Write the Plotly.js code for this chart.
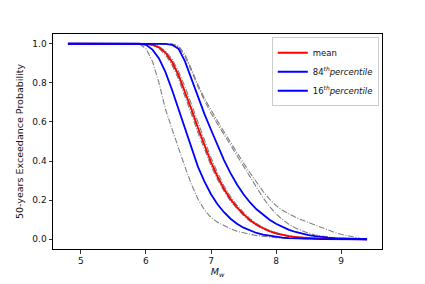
<!DOCTYPE html>
<html>
<head>
<meta charset="utf-8">
<script src="https://cdn.plot.ly/plotly-3.0.1.min.js"></script>
<style>html,body{margin:0;padding:0;background:#fff;}#chart{width:425px;height:284px;}</style>
</head>
<body>
<div id="chart"></div>
<script>
const mw = [4.8, 5.8, 5.9, 6.0, 6.1, 6.2, 6.3, 6.4, 6.5, 6.6, 6.7, 6.8, 6.9, 7.0, 7.1, 7.2, 7.3, 7.4, 7.5, 7.6, 7.7, 7.8, 7.9, 8.0, 8.1, 8.2, 8.3, 8.4, 8.5, 8.6, 8.7, 8.8, 8.9, 9.0, 9.1, 9.2, 9.3, 9.4];

const meanP = [1, 1, 1, 0.999, 0.995, 0.982, 0.955, 0.908, 0.841, 0.758, 0.665, 0.57, 0.478, 0.395, 0.321, 0.258, 0.205, 0.163, 0.128, 0.098, 0.074, 0.056, 0.041, 0.030, 0.022, 0.016, 0.011, 0.008, 0.0055, 0.0038, 0.0026, 0.0017, 0.001, 0.0006, 0.0003, 0.0002, 0.0001, 0];

const p84 = [1, 1, 1, 1, 1, 1, 0.999, 0.995, 0.975, 0.91, 0.82, 0.725, 0.64, 0.56, 0.48, 0.405, 0.338, 0.28, 0.23, 0.188, 0.153, 0.125, 0.10, 0.079, 0.062, 0.048, 0.037, 0.028, 0.021, 0.016, 0.011, 0.008, 0.0055, 0.0037, 0.0024, 0.0014, 0.0006, 0];

const p16 = [1, 1, 1, 0.995, 0.97, 0.925, 0.855, 0.765, 0.665, 0.56, 0.46, 0.37, 0.295, 0.23, 0.179, 0.138, 0.105, 0.079, 0.059, 0.044, 0.032, 0.023, 0.017, 0.012, 0.0085, 0.006, 0.0042, 0.003, 0.002, 0.0014, 0.001, 0.0007, 0.0005, 0.0003, 0.0002, 0.0001, 0, 0];

const branchA = [1, 1, 0.998, 0.975, 0.91, 0.80, 0.665, 0.565, 0.465, 0.37, 0.28, 0.205, 0.15, 0.111, 0.087, 0.068, 0.053, 0.041, 0.032, 0.025, 0.019, 0.014, 0.010, 0.0075, 0.0055, 0.004, 0.003, 0.002, 0.0014, 0.001, 0.0007, 0.0005, 0.0003, 0.0002, 0.0001, 0.0001, 0, 0];

const branchB = [1, 1, 1, 1, 1, 1, 1, 0.998, 0.985, 0.935, 0.86, 0.78, 0.71, 0.645, 0.59, 0.535, 0.48, 0.425, 0.37, 0.315, 0.262, 0.212, 0.168, 0.13, 0.1, 0.076, 0.057, 0.042, 0.031, 0.022, 0.016, 0.011, 0.007, 0.0045, 0.0025, 0.0012, 0.0004, 0];

const branchC = [1, 1, 1, 1, 1, 1, 1, 0.999, 0.99, 0.945, 0.87, 0.79, 0.72, 0.66, 0.605, 0.55, 0.495, 0.44, 0.39, 0.34, 0.29, 0.245, 0.205, 0.172, 0.148, 0.128, 0.112, 0.098, 0.085, 0.071, 0.058, 0.046, 0.035, 0.025, 0.017, 0.01, 0.004, 0];

const branchD = [1, 1, 1, 0.999, 0.992, 0.976, 0.943, 0.891, 0.82, 0.733, 0.639, 0.544, 0.455, 0.376, 0.305, 0.246, 0.195, 0.155, 0.121, 0.092, 0.070, 0.052, 0.039, 0.028, 0.0205, 0.015, 0.0103, 0.0074, 0.005, 0.0035, 0.0024, 0.0015, 0.0009, 0.0005, 0.0003, 0.0002, 0.0001, 0];

const branchE = [1, 1, 1, 1, 0.997, 0.986, 0.963, 0.922, 0.86, 0.781, 0.69, 0.597, 0.503, 0.417, 0.341, 0.274, 0.218, 0.174, 0.137, 0.105, 0.080, 0.060, 0.045, 0.033, 0.024, 0.0175, 0.0125, 0.009, 0.0063, 0.0043, 0.003, 0.002, 0.0012, 0.0007, 0.0004, 0.0002, 0.0001, 0];

const branchF = [1, 1, 1, 0.999, 0.994, 0.979, 0.95, 0.90, 0.832, 0.748, 0.655, 0.56, 0.468, 0.386, 0.313, 0.252, 0.2, 0.159, 0.124, 0.095, 0.072, 0.054, 0.040, 0.029, 0.021, 0.0155, 0.0107, 0.0077, 0.0053, 0.0037, 0.0025, 0.0016, 0.001, 0.0006, 0.0003, 0.0002, 0.0001, 0];

const legendNames = ['mean', '84<sup><i>th</i></sup><i>percentile</i>', '16<sup><i>th</i></sup><i>percentile</i>'];

const grayLine = {color: '#808080', width: 1.1, dash: '6px,1.6px,1px,1.6px'};
const branches = [branchA, branchB, branchC, branchD, branchE, branchF];
const traces = branches.map(b => ({
  x: mw, y: b, type: 'scatter', mode: 'lines', line: grayLine, showlegend: false, hoverinfo: 'skip'
}));
traces.push({x: mw, y: meanP, type: 'scatter', mode: 'lines', name: legendNames[0], line: {color: '#ff0000', width: 1.8}});
traces.push({x: mw, y: p84, type: 'scatter', mode: 'lines', name: legendNames[1], line: {color: '#0000ff', width: 1.8}});
traces.push({x: mw, y: p16, type: 'scatter', mode: 'lines', name: legendNames[2], line: {color: '#0000ff', width: 1.8}});

const axisCommon = {
  showgrid: false, zeroline: false, showline: true, linecolor: '#000', linewidth: 1, mirror: true,
  ticks: 'outside', ticklen: 3.5, tickwidth: 0.8, tickcolor: '#000',
  tickfont: {family: 'DejaVu Sans', size: 9, color: '#111'}
};

const layout = {
  width: 425, height: 284,
  margin: {l: 53, r: 43, t: 34, b: 35.25},
  paper_bgcolor: '#fff', plot_bgcolor: '#fff',
  font: {family: 'DejaVu Sans', color: '#111'},
  xaxis: Object.assign({}, axisCommon, {
    range: [4.57, 9.63], tickvals: [5, 6, 7, 8, 9], ticktext: ['5', '6', '7', '8', '9'],
    title: {text: '<i>M</i><sub><i>w</i></sub>', font: {family: 'DejaVu Sans', size: 9.5}, standoff: 3}
  }),
  yaxis: Object.assign({}, axisCommon, {
    range: [-0.05, 1.05], tickvals: [0, 0.2, 0.4, 0.6, 0.8, 1.0], ticktext: ['0.0', '0.2', '0.4', '0.6', '0.8', '1.0'],
    title: {text: '50-years Exceedance Probability', font: {family: 'DejaVu Sans', size: 9.5}, standoff: 7}
  }),
  showlegend: true,
  legend: {
    x: 0.665, y: 0.985, xanchor: 'left', yanchor: 'top',
    bgcolor: 'rgba(255,255,255,0.8)', bordercolor: '#cccccc', borderwidth: 1,
    font: {family: 'DejaVu Sans', size: 8.5, color: '#111'},
    itemwidth: 30, tracegroupgap: 0
  }
};

Plotly.newPlot('chart', traces, layout, {displayModeBar: false, staticPlot: true});
</script>
</body>
</html>
